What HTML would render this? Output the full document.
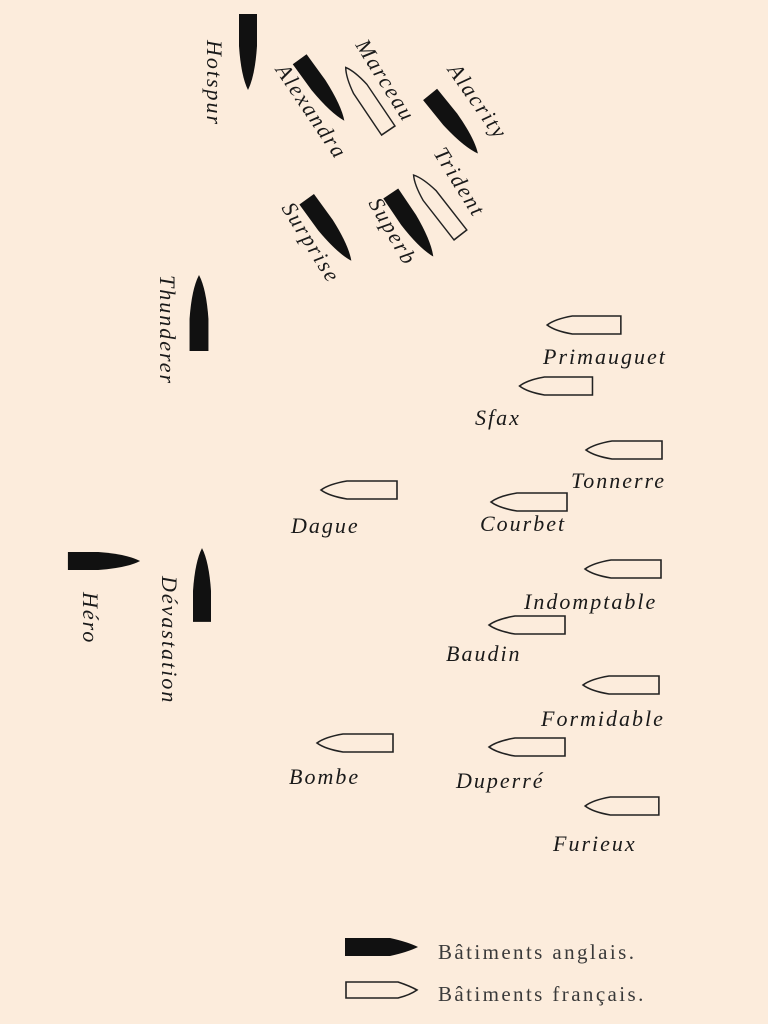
<!DOCTYPE html>
<html><head><meta charset="utf-8"><style>
html,body{margin:0;padding:0;background:#fcecdc;}
svg{display:block}
.l{font-family:"Liberation Serif",serif;font-style:italic;font-size:22px;fill:#1a1a1a;letter-spacing:2px}
.g{font-family:"Liberation Serif",serif;font-size:21px;fill:#3a3a3a;letter-spacing:2.4px}
</style></head><body>
<svg width="768" height="1024" viewBox="0 0 768 1024" xmlns="http://www.w3.org/2000/svg">
<defs>
<path id="b" d="M-38,-9 H-6 Q24,-7 38,0 Q24,7 -6,9 H-38 Z" fill="#111"/>
<path id="w" d="M-38,-9 H12 Q30,-6 38,0 Q30,6 12,9 H-38 Z" fill="#fcecdc" stroke="#222" stroke-width="1.6"/>
</defs>
<rect width="768" height="1024" fill="#fcecdc"/>
<use href="#b" transform="translate(248,52) rotate(90)"/>
<use href="#b" transform="translate(322,90) rotate(54) scale(1,0.95)"/>
<use href="#w" transform="translate(367,99) rotate(236) scale(1,0.9)"/>
<use href="#b" transform="translate(454,124) rotate(51)"/>
<use href="#w" transform="translate(437,205) rotate(232) scale(1,0.9)"/>
<use href="#b" transform="translate(412,225) rotate(56)"/>
<use href="#b" transform="translate(329,230) rotate(54)"/>
<use href="#b" transform="translate(199,313) rotate(-90) scale(1,1.05)"/>
<use href="#b" transform="translate(104,561) scale(0.95,1)"/>
<use href="#b" transform="translate(202,585) rotate(-90) scale(0.97,1)"/>
<use href="#w" transform="translate(584,325) rotate(180) scale(0.97,1)"/>
<use href="#w" transform="translate(556,386) rotate(180) scale(0.96,1)"/>
<use href="#w" transform="translate(624,450) rotate(180)"/>
<use href="#w" transform="translate(359,490) rotate(180)"/>
<use href="#w" transform="translate(529,502) rotate(180)"/>
<use href="#w" transform="translate(623,569) rotate(180)"/>
<use href="#w" transform="translate(527,625) rotate(180)"/>
<use href="#w" transform="translate(621,685) rotate(180)"/>
<use href="#w" transform="translate(355,743) rotate(180)"/>
<use href="#w" transform="translate(527,747) rotate(180)"/>
<use href="#w" transform="translate(622,806) rotate(180) scale(0.97,1)"/>
<text class="l" x="543" y="364">Primauguet</text>
<text class="l" x="475" y="425">Sfax</text>
<text class="l" x="571" y="488">Tonnerre</text>
<text class="l" x="291" y="533">Dague</text>
<text class="l" x="480" y="531">Courbet</text>
<text class="l" x="524" y="609">Indomptable</text>
<text class="l" x="446" y="661">Baudin</text>
<text class="l" x="541" y="726">Formidable</text>
<text class="l" x="289" y="784">Bombe</text>
<text class="l" x="456" y="788">Duperré</text>
<text class="l" x="553" y="851">Furieux</text>
<text class="l" transform="translate(207,40) rotate(90)">Hotspur</text>
<text class="l" transform="translate(160,275) rotate(90)">Thunderer</text>
<text class="l" transform="translate(162,576) rotate(90)">Dévastation</text>
<text class="l" transform="translate(83,592) rotate(90)">Héro</text>
<text class="l" transform="translate(275,70) rotate(56)">Alexandra</text>
<text class="l" transform="translate(355,45) rotate(58)">Marceau</text>
<text class="l" transform="translate(447,70) rotate(55)">Alacrity</text>
<text class="l" transform="translate(433,153) rotate(58)">Trident</text>
<text class="l" transform="translate(368,203) rotate(60)">Superb</text>
<text class="l" transform="translate(281,208) rotate(58)">Surprise</text>
<path d="M345,938 H390 Q408,942 418,947 Q408,952 390,956 H345 Z" fill="#111"/>
<path d="M346,982 H398 Q410,986 417,990 Q410,995 398,998 H346 Z" fill="#fcecdc" stroke="#222" stroke-width="1.6"/>
<text class="g" x="438" y="959">Bâtiments anglais.</text>
<text class="g" x="438" y="1001">Bâtiments français.</text>
</svg>
</body></html>
